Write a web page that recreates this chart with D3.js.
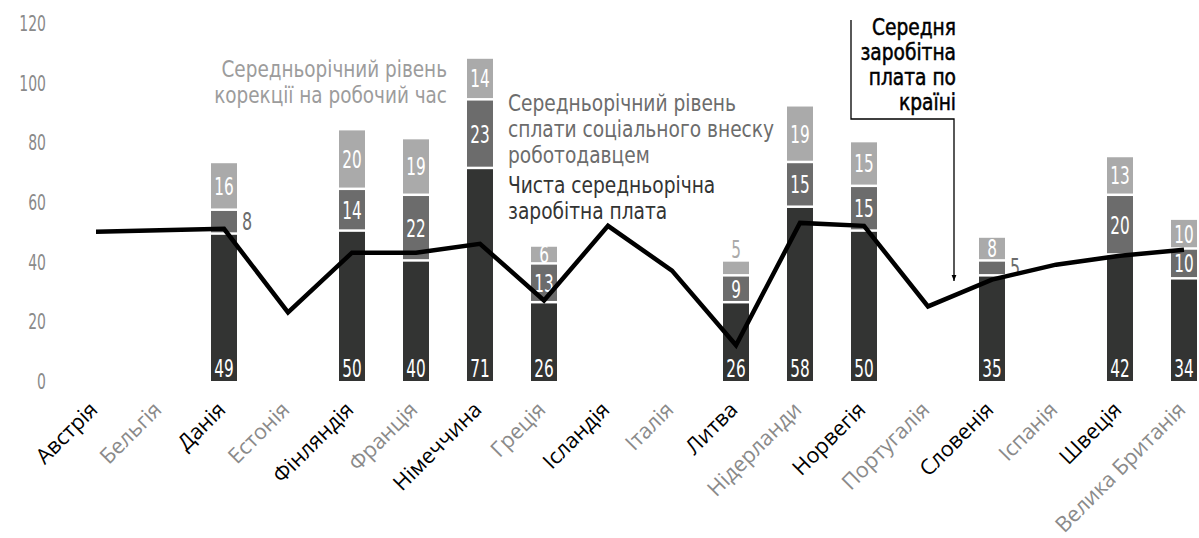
<!DOCTYPE html>
<html><head><meta charset="utf-8">
<script src="https://cdn.jsdelivr.net/npm/d3@7"></script>
<style>
body{margin:0;background:#fff;}
svg{display:block;}
</style></head>
<body>
<svg id="chart" width="1199" height="538"></svg>
<script>
const countries = ["Австрія","Бельгія","Данія","Естонія","Фінляндія","Франція","Німеччина","Греція","Ісландія","Італія","Литва","Нідерланди","Норвегія","Португалія","Словенія","Іспанія","Швеція","Велика Британія"];
// net average salary (dark), employer social contribution (mid), working-hour correction (light); null = no bar
const netSalary   = [null,null,49,null,50,40,71,26,null,null,26,58,50,null,35,null,42,34];
const employerTax = [null,null, 8,null,14,22,23,13,null,null, 9,15,15,null, 5,null,20,10];
const hourCorr    = [null,null,16,null,20,19,14, 6,null,null, 5,19,15,null, 8,null,13,10];
const avgWage     = [50,50.5,51,23,43,43,46,27,52,37,12,53,52,25,34,39,42,44];
const yTicks = [0,20,40,60,80,100,120];

const svg = d3.select("#chart");
const x = d3.scalePoint().domain(countries).range([96,1184]);
const y = d3.scaleLinear().domain([0,120]).range([381,23]);
const barW = 26, gap = 2.5;
const cDark="#333433", cMid="#6c6c6c", cLight="#aaaaaa";
const numFont = "'DejaVu Sans Condensed','DejaVu Sans',sans-serif";

// y axis
const ya = svg.append("g").attr("transform","translate(46,0)")
  .call(d3.axisLeft(y).tickValues(yTicks).tickSize(0).tickPadding(0));
ya.select(".domain").remove();
ya.selectAll("text").attr("font-family",numFont).attr("font-size",21)
  .attr("fill","#8a8a8a").attr("dy","0.36em").attr("transform","scale(0.74,1)");

// stacked bars
const segs = [];
countries.forEach((c,i)=>{
  if(netSalary[i]==null) return;
  const a=netSalary[i], b=employerTax[i], h=hourCorr[i];
  segs.push({c, lvl:0, y0:0, y1:a, v:a, col:cDark});
  segs.push({c, lvl:1, y0:a, y1:a+b, v:b, col:cMid});
  segs.push({c, lvl:2, y0:a+b, y1:a+b+h, v:h, col:cLight});
});
const bars = svg.append("g");
bars.selectAll("rect").data(segs).join("rect")
  .attr("x",d=>x(d.c)-barW/2).attr("width",barW)
  .attr("y",d=>y(d.y1))
  .attr("height",d=>y(d.y0)-y(d.y1)-(d.lvl>0?gap:0))
  .attr("fill",d=>d.col);

// bar labels
function labelPos(d){
  const cx=x(d.c);
  if(d.lvl===0) return {x:cx, y:377, anchor:"middle", fill:"#fff"};
  const top=y(d.y1), bot=y(d.y0)-gap;
  if(d.lvl===1 && d.v<=8) return {x:cx+barW/2+5, y:(top+bot)/2+8, anchor:"start", fill:d.col, small:true};
  if(d.lvl===2 && d.v<=5) return {x:cx, y:top-4, anchor:"middle", fill:cLight};
  return {x:cx, y:(top+bot)/2+9, anchor:"middle", fill:"#fff"};
}
svg.append("g").selectAll("text").data(segs).join("text")
  .each(function(d){
    const p=labelPos(d);
    d3.select(this).attr("transform",`translate(${p.x},${p.y}) scale(${p.small?0.74:0.68},1)`)
      .attr("text-anchor",p.anchor).attr("fill",p.fill)
      .attr("font-size",p.small?24:25);
  })
  .attr("font-family",numFont)
  .text(d=>d.v);

// average wage line
const lineData = countries.map((c,i)=>({c,v:avgWage[i]}));
svg.append("path").datum(lineData)
  .attr("fill","none").attr("stroke","#000").attr("stroke-width",4.5)
  .attr("stroke-linejoin","miter")
  .attr("d",d3.line().x(d=>x(d.c)).y(d=>y(d.v)));

// x axis labels
const xa = svg.append("g");
xa.selectAll("text").data(countries).join("text")
  .attr("transform",d=>`translate(${x(d)+3},411) rotate(-45)`)
  .attr("text-anchor","end")
  .attr("font-family","'Open Sans','Noto Sans',sans-serif")
  .attr("font-size",21.5)
  .attr("fill",(d,i)=>i%2===0?"#000":"#8a8a8a")
  .text(d=>d);

// annotations
const annFont = "'DejaVu Sans Condensed','DejaVu Sans',sans-serif";
function block(lines, xx, y0, dy, anchor, fill, sx, strokeW){
  const g = svg.append("g").attr("transform",`translate(${xx},0) scale(${sx},1)`);
  const t = g.append("text").attr("font-family",annFont).attr("font-size",23)
    .attr("fill",fill).attr("text-anchor",anchor);
  if(strokeW) t.attr("stroke",fill).attr("stroke-width",strokeW);
  lines.forEach((l,k)=>t.append("tspan").attr("x",0).attr("y",y0+k*dy).text(l));
}
block(["Середньорічний рівень","корекції на робочий час"], 447, 77, 26, "end", "#9c9c9c", 0.89);
block(["Середньорічний рівень","сплати соціального внеску","роботодавцем"], 508, 111, 26, "start", "#6c6c6c", 0.9);
block(["Чиста середньорічна","заробітна плата"], 508, 193, 26, "start", "#333433", 0.9);
block(["Середня","заробітна","плата по","країні"], 956, 35, 25, "end", "#000", 0.9, 0.5);

// arrow
svg.append("defs").append("marker").attr("id","ah").attr("viewBox","0 0 10 10")
  .attr("refX",10).attr("refY",5).attr("markerWidth",5).attr("markerHeight",5)
  .attr("orient","auto").append("path").attr("d","M0,1L10,5L0,9Z").attr("fill","#000");
svg.append("path").attr("d","M851,20V119H954V281")
  .attr("fill","none").attr("stroke","#000").attr("stroke-width",1.3)
  .attr("marker-end","url(#ah)");
</script>
</body></html>
